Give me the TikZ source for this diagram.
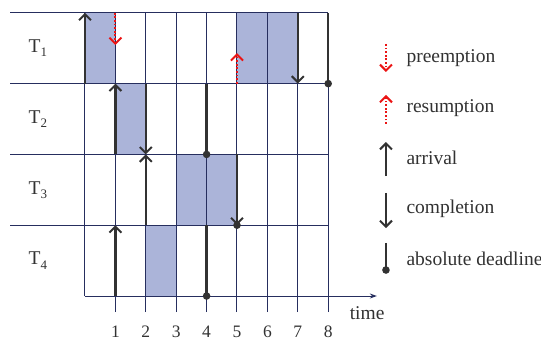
\documentclass[tikz,border=0pt]{standalone}
\usepackage{fontspec}
\setmainfont{Liberation Serif}
\usetikzlibrary{arrows.meta}
\definecolor{gridblue}{RGB}{38,46,94}
\definecolor{runfill}{RGB}{171,180,217}
\definecolor{evgray}{RGB}{50,50,50}
\definecolor{prered}{RGB}{235,20,20}
\newcommand{\task}[1]{T\kern0.3pt\raisebox{-0.45ex}{\fontsize{13}{13}\selectfont #1}}

\begin{document}
\begin{tikzpicture}[x=30.4pt,y=70.8pt,
		every node/.style={text=evgray,font=\fontsize{19.5}{22}\selectfont},
		gridline/.style={draw=gridblue,line width=1pt},
		event/.style={draw=evgray,line width=2.4pt},
		uparr/.style={event,-{Straight Barb[length=6pt,width=12pt,line width=2pt]}},
		downarr/.style={event,-{Straight Barb[length=6pt,width=12pt,line width=2pt]}},
		redarr/.style={draw=prered,line width=2.2pt,dash pattern=on 1.8pt off 1.8pt,-{Straight Barb[length=6pt,width=12pt,line width=2pt]}}]
		\useasboundingbox (-2.796,-0.6356) rectangle (15.0,4.181);
		% executed slots
		\fill[runfill] (0,3) rectangle (1,4);
		\fill[runfill] (5,3) rectangle (7,4);
		\fill[runfill] (1,2) rectangle (2,3);
		\fill[runfill] (3,1) rectangle (5,2);
		\fill[runfill] (2,0) rectangle (3,1);
		% grid and time axis
		\foreach \y in {1,2,3,4}
			\draw[gridline] (-2.467,\y) -- (8,\y);
		\draw[gridline] (0,0) -- (0,4);
		\foreach \x in {1,...,8} {
			\draw[gridline] (\x,-0.226) -- (\x,4);
			\path (\x,-0.593) node[anchor=base,inner sep=0pt,font=\fontsize{17.5}{18}\selectfont] {\x};
		}
		\draw[gridline,-{Stealth[length=7pt,width=5pt]}] (0,0) -- (9.6,0);
		\path (9.28,-0.24) node {time};
		\path (-1.55,3.5) node {\task{1}};
		\path (-1.55,2.5) node {\task{2}};
		\path (-1.55,1.5) node {\task{3}};
		\path (-1.55,0.5) node {\task{4}};
		% arrivals
		\foreach \t/\r in {0/3,1/2,2/1,1/0}
			\draw[uparr] (\t,\r) -- (\t,\r+1);
		% completions
		\foreach \t/\r in {7/3,2/2,5/1}
			\draw[downarr] (\t,\r+1) -- (\t,\r);
		% deadlines
		\foreach \t/\r in {8/3,4/2,5/1,4/0} {
			\draw[event] (\t,\r+1) -- (\t,\r);
			\fill[evgray] (\t,\r) circle (3.8pt);
		}
		% preemption and resumption of T1
		\draw[redarr] (1,4) -- (1,3.545);
		\draw[redarr] (5,3) -- (5,3.43);
		% legend
		\draw[redarr] (9.9,3.56) -- (9.9,3.164);
		\path (10.46,3.36) node[anchor=west] {preemption};
		\draw[redarr] (9.9,2.43) -- (9.9,2.84);
		\path (10.46,2.655) node[anchor=west] {resumption};
		\draw[uparr] (9.9,1.695) -- (9.9,2.175);
		\path (10.46,1.95) node[anchor=west] {arrival};
		\draw[downarr] (9.9,1.455) -- (9.9,0.96);
		\path (10.46,1.23) node[anchor=west] {completion};
		\draw[event] (9.9,0.75) -- (9.9,0.367);
		\fill[evgray] (9.9,0.367) circle (3.8pt);
		\path (10.46,0.52) node[anchor=west] {absolute deadline};
\end{tikzpicture}
\end{document}
